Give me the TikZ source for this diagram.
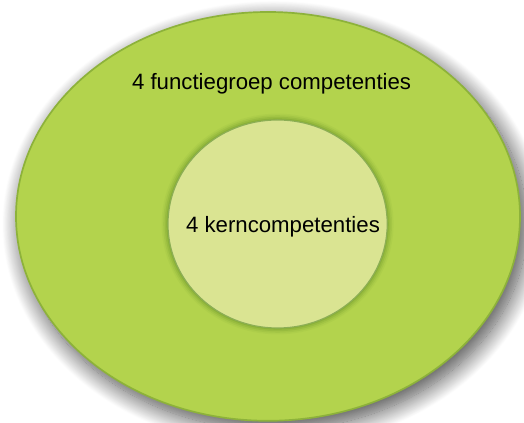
\documentclass[tikz,border=0pt]{standalone}
\usepackage{fontspec}
\setmainfont{Liberation Sans}
\usetikzlibrary{positioning,shapes.geometric,shadows.blur}
\definecolor{groen}{HTML}{B3D34D}
\definecolor{rand}{HTML}{8DB23A}
\definecolor{licht}{HTML}{DAE492}
\definecolor{donker}{HTML}{6F9A2A}

\begin{document}
\begin{tikzpicture}[font=\fontsize{15.8}{18}\selectfont,
      ring/.style={ellipse, inner sep=0pt, line width=1.2pt}]
    \useasboundingbox (0,0) rectangle (13.1,-10.575);
    % buitenste ring met schaduw
    \node[ring, draw=rand, fill=groen, minimum width=12.6cm, minimum height=10.22cm,
          blur shadow={shadow xshift=0.14cm, shadow yshift=-0.2cm, shadow scale=1.005,
                       shadow blur radius=0.45cm, shadow blur steps=24,
                       shadow opacity=70}] (fg) at (6.7,-5.41) {};
    % zachte rand om de kern
    \foreach \r/\o in {0.16/0.08, 0.12/0.14, 0.08/0.22, 0.04/0.32}
      \fill[donker, opacity=\o] (6.94,-5.6) ellipse ({2.74+\r} and {2.6+\r});
    \node[ring, draw=donker!80, fill=licht, line width=0.8pt,
          minimum width=5.48cm, minimum height=5.2cm] (kern) at (6.94,-5.6) {};
    \node[anchor=base] (fgtxt) at (6.79,-2.25) {4 functiegroep competenties};
    \node[anchor=base] (kerntxt) at (7.075,-5.825) {4 kerncompetenties};
\end{tikzpicture}
\end{document}
